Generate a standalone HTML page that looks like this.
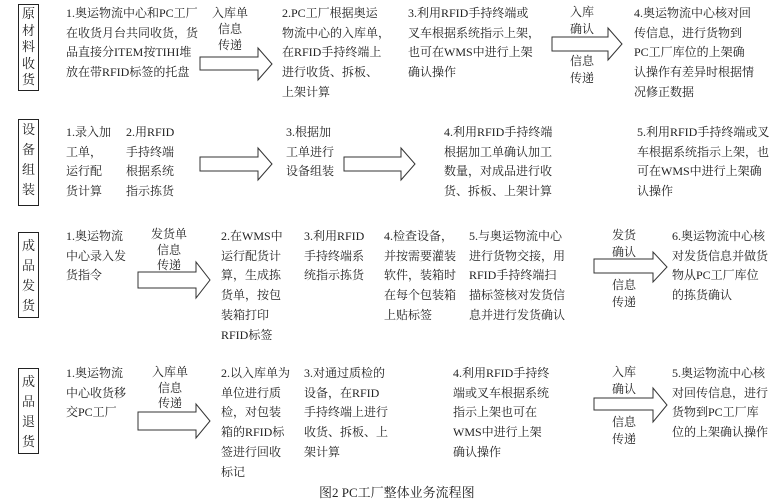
<!DOCTYPE html>
<html><head><meta charset="utf-8"><style>
body{margin:0;background:#fff;width:784px;height:504px;position:relative;overflow:hidden;font-family:"Liberation Serif","Noto Serif CJK SC",serif;color:#222;}
.t{position:absolute;font-size:12px;line-height:19.7px;white-space:nowrap;}
.c{text-align:center;line-height:16px;}
.b{position:absolute;border:1px solid #222;width:21px;font-size:13px;text-align:center;box-sizing:border-box;}
svg{position:absolute;left:0;top:0;}
</style></head><body>
<svg width="784" height="504">
<g fill="#fff" stroke="#333" stroke-width="1">
<polygon points="200,57 258,57 258,48 272,64 258,80 258,70 200,70"/>
<polygon points="552,37 608,37 608,28 622,44 608,60 608,51 552,51"/>
<polygon points="200,157 258,157 258,148 272,164 258,180 258,171 200,171"/>
<polygon points="344,157 401,157 401,148 415,164 401,180 401,171 344,171"/>
<polygon points="138,272 196,272 196,262 210,280 196,298 196,288 138,288"/>
<polygon points="594,259 653,259 653,252 667,267 653,282 653,273 594,273"/>
<polygon points="138,412 196,412 196,404 210,421 196,438 196,430 138,430"/>
<polygon points="594,398 653,398 653,388 667,405 653,422 653,410 594,410"/>
</g></svg>

<div class="b" style="left:18px;top:4px;height:87px;line-height:16.5px;padding-top:1px">原<br>材<br>料<br>收<br>货</div>
<div class="b" style="left:18px;top:119px;height:87px;line-height:20px;padding-top:0px">设<br>备<br>组<br>装</div>
<div class="b" style="left:18px;top:232px;height:86px;line-height:20px;padding-top:3px">成<br>品<br>发<br>货</div>
<div class="b" style="left:18px;top:368px;height:86px;line-height:20px;padding-top:3px">成<br>品<br>退<br>货</div>

<div class="t" style="left:66px;top:4px">1.奥运物流中心和PC工厂<br>在收货月台共同收货，货<br>品直接分ITEM按TIHI堆<br>放在带RFID标签的托盘</div>
<div class="t c" style="left:212px;top:5px">入库单<br>信息<br>传递</div>
<div class="t" style="left:282px;top:4px">2.PC工厂根据奥运<br>物流中心的入库单，<br>在RFID手持终端上<br>进行收货、拆板、<br>上架计算</div>
<div class="t" style="left:408px;top:4px">3.利用RFID手持终端或<br>叉车根据系统指示上架，<br>也可在WMS中进行上架<br>确认操作</div>
<div class="t c" style="left:570px;top:4px;line-height:17px">入库<br>确认</div>
<div class="t c" style="left:570px;top:53px;line-height:17px">信息<br>传递</div>
<div class="t" style="left:634px;top:4px">4.奥运物流中心核对回<br>传信息，进行货物到<br>PC工厂库位的上架确<br>认操作有差异时根据情<br>况修正数据</div>

<div class="t" style="left:66px;top:123px">1.录入加<br>工单，<br>运行配<br>货计算</div>
<div class="t" style="left:126px;top:123px">2.用RFID<br>手持终端<br>根据系统<br>指示拣货</div>
<div class="t" style="left:286px;top:123px">3.根据加<br>工单进行<br>设备组装</div>
<div class="t" style="left:444px;top:123px">4.利用RFID手持终端<br>根据加工单确认加工<br>数量，对成品进行收<br>货、拆板、上架计算</div>
<div class="t" style="left:637px;top:123px">5.利用RFID手持终端或叉<br>车根据系统指示上架，也<br>可在WMS中进行上架确<br>认操作</div>

<div class="t" style="left:66px;top:227px">1.奥运物流<br>中心录入发<br>货指令</div>
<div class="t c" style="left:151px;top:227px;line-height:15.5px">发货单<br>信息<br>传递</div>
<div class="t" style="left:221px;top:227px">2.在WMS中<br>运行配货计<br>算，生成拣<br>货单，按包<br>装箱打印<br>RFID标签</div>
<div class="t" style="left:304px;top:227px">3.利用RFID<br>手持终端系<br>统指示拣货</div>
<div class="t" style="left:384px;top:227px">4.检查设备，<br>并按需要灌装<br>软件，装箱时<br>在每个包装箱<br>上贴标签</div>
<div class="t" style="left:469px;top:227px">5.与奥运物流中心<br>进行货物交接，用<br>RFID手持终端扫<br>描标签核对发货信<br>息并进行发货确认</div>
<div class="t c" style="left:612px;top:227px;line-height:17px">发货<br>确认</div>
<div class="t c" style="left:612px;top:277px;line-height:17px">信息<br>传递</div>
<div class="t" style="left:672px;top:227px">6.奥运物流中心核<br>对发货信息并做货<br>物从PC工厂库位<br>的拣货确认</div>

<div class="t" style="left:66px;top:364px">1.奥运物流<br>中心收货移<br>交PC工厂</div>
<div class="t c" style="left:152px;top:365px;line-height:15.5px">入库单<br>信息<br>传递</div>
<div class="t" style="left:221px;top:364px">2.以入库单为<br>单位进行质<br>检，对包装<br>箱的RFID标<br>签进行回收<br>标记</div>
<div class="t" style="left:304px;top:364px">3.对通过质检的<br>设备，在RFID<br>手持终端上进行<br>收货、拆板、上<br>架计算</div>
<div class="t" style="left:453px;top:364px">4.利用RFID手持终<br>端或叉车根据系统<br>指示上架也可在<br>WMS中进行上架<br>确认操作</div>
<div class="t c" style="left:612px;top:364px;line-height:17px">入库<br>确认</div>
<div class="t c" style="left:612px;top:414px;line-height:17px">信息<br>传递</div>
<div class="t" style="left:672px;top:364px">5.奥运物流中心核<br>对回传信息，进行<br>货物到PC工厂库<br>位的上架确认操作</div>

<div class="t" style="left:319px;top:483px;font-size:13px">图2 PC工厂整体业务流程图</div>
</body></html>
